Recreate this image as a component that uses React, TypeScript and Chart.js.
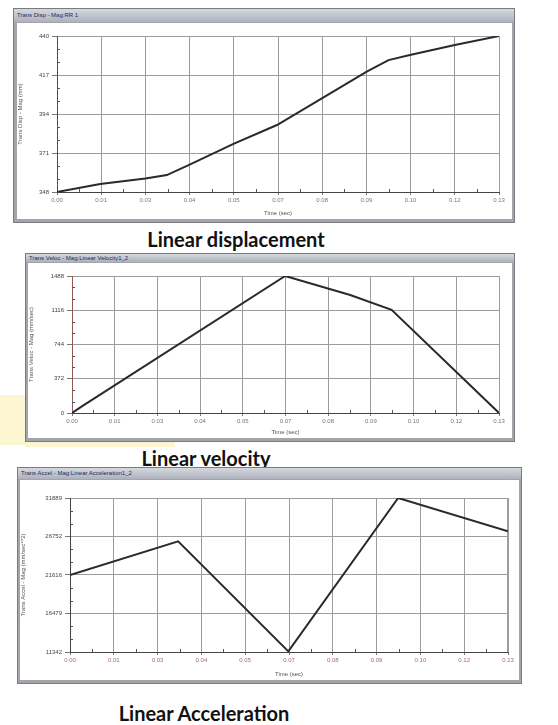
import React, { useEffect, useRef } from 'react';
import { Chart, registerables } from 'chart.js';

Chart.register(...registerables);

// ---- shared time axis ----
const timeTicks = [0, 0.013, 0.026, 0.039, 0.052, 0.065, 0.078, 0.091, 0.104, 0.117, 0.13];
const timeTickLabels = ['0.00', '0.01', '0.03', '0.04', '0.05', '0.07', '0.08', '0.09', '0.10', '0.12', '0.13'];

// ---- Linear displacement ----
const dispTime = [0, 0.0127, 0.026, 0.0323, 0.0387, 0.0519, 0.0647, 0.0779, 0.0911, 0.0975, 0.1038, 0.117, 0.13];
const dispValue = [348, 352.7, 356, 358, 363.9, 376.4, 387.5, 403.2, 419, 425.8, 428.8, 434.7, 440];
const dispTicks = [348, 371, 394, 417, 440];

// ---- Linear velocity ----
const velTime = [0, 0.003, 0.0649, 0.0847, 0.0973, 0.13];
const velValue = [0, 72, 1488, 1282, 1120, 0];
const velTicks = [0, 372, 744, 1116, 1488];

// ---- Linear acceleration ----
const accTime = [0, 0.0321, 0.0648, 0.0974, 0.13];
const accValue = [21616, 26108, 11430, 31889, 27443];
const accTicks = [11342, 16479, 21616, 26752, 31889];

type PanelProps = {
  frame: [number, number, number, number]; // left, top, right, bottom
  white: [number, number, number, number];
  windowTitle: string;
  yTitle: string;
  xs: number[];
  ys: number[];
  yTicks: number[];
  yAxisWidth: number;
  xAxisHeight: number;
  padTop: number;
  padRight: number;
  redX: number;
  redColor: string;
  redWidth: number;
  redDash: number[];
  xTickColor: string;
};

const minorTickPlugin = {
  id: 'minorTicks',
  afterDatasetsDraw(chart: any) {
    const { ctx, chartArea, scales } = chart;
    const xs = scales.x;
    const ys = scales.y;
    ctx.save();
    ctx.strokeStyle = '#555';
    ctx.lineWidth = 1;
    const xt = xs.ticks.map((t: any) => t.value);
    for (let i = 0; i < xt.length - 1; i++) {
      const px = Math.round(xs.getPixelForValue((xt[i] + xt[i + 1]) / 2)) + 0.5;
      ctx.beginPath();
      ctx.moveTo(px, chartArea.bottom);
      ctx.lineTo(px, chartArea.bottom - 3);
      ctx.stroke();
    }
    const yt = ys.ticks.map((t: any) => t.value);
    for (let i = 0; i < yt.length - 1; i++) {
      for (let k = 1; k < 3; k++) {
        const py = Math.round(ys.getPixelForValue(yt[i] + ((yt[i + 1] - yt[i]) * k) / 3)) + 0.5;
        ctx.beginPath();
        ctx.moveTo(chartArea.left, py);
        ctx.lineTo(chartArea.left + 3, py);
        ctx.stroke();
      }
    }
    ctx.restore();
  },
};

function Panel(p: PanelProps) {
  const ref = useRef<HTMLCanvasElement>(null);
  const w = p.white[2] - p.white[0];
  const h = p.white[3] - p.white[1];
  useEffect(() => {
    const last = p.yTicks.length - 1;
    const chart = new Chart(ref.current!, {
      type: 'line',
      data: {
        datasets: [
          {
            data: p.xs.map((x, i) => ({ x, y: p.ys[i] })),
            borderColor: '#2a2a2a',
            borderWidth: 2,
            pointRadius: 0,
            tension: 0,
            order: 0,
          },
          {
            data: [
              { x: p.redX, y: p.yTicks[0] },
              { x: p.redX, y: p.yTicks[last] },
            ],
            borderColor: p.redColor,
            borderWidth: p.redWidth,
            borderDash: p.redDash,
            pointRadius: 0,
            order: 1,
          },
        ],
      },
      options: {
        animation: false,
        responsive: false,
        maintainAspectRatio: false,
        devicePixelRatio: 1,
        layout: { padding: { top: p.padTop, right: p.padRight, left: 0, bottom: 0 } },
        plugins: { legend: { display: false }, tooltip: { enabled: false } },
        scales: {
          x: {
            type: 'linear',
            min: timeTicks[0],
            max: timeTicks[timeTicks.length - 1],
            afterBuildTicks: (s: any) => {
              s.ticks = timeTicks.map((v) => ({ value: v }));
            },
            afterFit: (s: any) => {
              s.height = p.xAxisHeight;
            },
            ticks: {
              callback: (_v: any, i: number) => timeTickLabels[i],
              font: { size: 6, family: 'Liberation Sans' },
              color: p.xTickColor,
              maxRotation: 0,
              autoSkip: false,
              padding: 2,
            },
            grid: { color: '#9c9c9c', lineWidth: 1, tickLength: 3, tickColor: '#777' },
            border: { color: '#444', width: 1 },
            title: {
              display: true,
              text: 'Time (sec)',
              font: { size: 6, family: 'Liberation Sans' },
              color: '#555',
              padding: { top: 0, bottom: 2 },
            },
          },
          y: {
            type: 'linear',
            min: p.yTicks[0],
            max: p.yTicks[last],
            afterBuildTicks: (s: any) => {
              s.ticks = p.yTicks.map((v) => ({ value: v }));
            },
            afterFit: (s: any) => {
              s.width = p.yAxisWidth;
            },
            ticks: {
              callback: (v: any) => String(v),
              font: { size: 6, family: 'Liberation Sans' },
              color: '#444',
              padding: 3,
            },
            grid: { color: '#9c9c9c', lineWidth: 1, tickLength: 5, tickColor: '#777' },
            border: { color: '#444', width: 1 },
            title: {
              display: true,
              text: p.yTitle,
              font: { size: 6, family: 'Liberation Sans' },
              color: '#555',
              padding: { top: 0, bottom: 0 },
            },
          },
        },
      },
      plugins: [minorTickPlugin],
    });
    return () => chart.destroy();
  }, []);

  const [fl, ft, fr, fb] = p.frame;
  const [wl, wt] = p.white;
  return (
    <>
      <div
        style={{
          position: 'absolute',
          left: fl,
          top: ft,
          width: fr - fl,
          height: fb - ft,
          boxSizing: 'border-box',
          background: '#a3a5aa',
          border: '1px solid #797b80',
        }}
      />
      <div
        style={{
          position: 'absolute',
          left: fl + 1,
          top: ft + 1,
          width: fr - fl - 2,
          height: wt - ft - 2,
          background: 'linear-gradient(#d6d8df, #aeb1bc)',
          fontFamily: 'Liberation Sans',
          fontSize: 6,
          lineHeight: `${wt - ft - 2}px`,
          color: '#1d2a5a',
          paddingLeft: 3,
          boxSizing: 'border-box',
          whiteSpace: 'nowrap',
          overflow: 'hidden',
        }}
      >
        {p.windowTitle}
      </div>
      <canvas
        ref={ref}
        width={w}
        height={h}
        style={{ position: 'absolute', left: wl, top: wt, width: w, height: h, background: '#fff', border: '0' }}
      />
    </>
  );
}

const captionStyle: React.CSSProperties = {
  position: 'absolute',
  fontFamily: 'Lato, "Open Sans", sans-serif',
  fontWeight: 700,
  fontSize: 20,
  color: '#111',
  whiteSpace: 'nowrap',
  transform: 'translate(-50%, -50%)',
  lineHeight: 1,
};

export default function App() {
  return (
    <div style={{ position: 'absolute', left: 0, top: 0, width: 558, height: 725, background: '#fff', overflow: 'hidden' }}>
      <div style={{ position: 'absolute', left: 0, top: 395, width: 26, height: 50, background: '#fbf6cf' }} />
      <div style={{ position: 'absolute', left: 25, top: 441, width: 150, height: 6, background: '#fbf6cf' }} />
      <Panel
        frame={[13, 8, 515, 223]}
        white={[17, 23, 512, 219]}
        windowTitle="Trans Disp - Mag:RR 1"
        yTitle="Trans Disp - Mag (mm)"
        xs={dispTime}
        ys={dispValue}
        yTicks={dispTicks}
        yAxisWidth={40}
        xAxisHeight={27}
        padTop={13}
        padRight={13}
        redX={timeTicks[0]}
        redColor="#e0393b"
        redWidth={1}
        redDash={[3, 2]}
        xTickColor="#777"
      />
      <div style={{ ...captionStyle, left: 236, top: 239 }}>Linear displacement</div>
      <Panel
        frame={[25, 253, 515, 442]}
        white={[28, 263, 512, 438]}
        windowTitle="Trans Veloc - Mag:Linear Velocity1_2"
        yTitle="Trans Veloc - Mag (mm/sec)"
        xs={velTime}
        ys={velValue}
        yTicks={velTicks}
        yAxisWidth={44}
        xAxisHeight={25}
        padTop={13}
        padRight={13}
        redX={timeTicks[0]}
        redColor="#e36a6a"
        redWidth={1}
        redDash={[]}
        xTickColor="#777"
      />
      <div style={{ ...captionStyle, left: 206, top: 458 }}>Linear velocity</div>
      <Panel
        frame={[17, 467, 522, 684]}
        white={[20, 480, 519, 680]}
        windowTitle="Trans Accel - Mag:Linear Acceleration1_2"
        yTitle="Trans Accel - Mag (mm/sec**2)"
        xs={accTime}
        ys={accValue}
        yTicks={accTicks}
        yAxisWidth={50}
        xAxisHeight={28}
        padTop={18}
        padRight={11}
        redX={timeTicks[timeTicks.length - 1]}
        redColor="#f27a85"
        redWidth={2}
        redDash={[]}
        xTickColor="#a56a6a"
      />
      <div style={{ ...captionStyle, left: 204, top: 713 }}>Linear Acceleration</div>
    </div>
  );
}
